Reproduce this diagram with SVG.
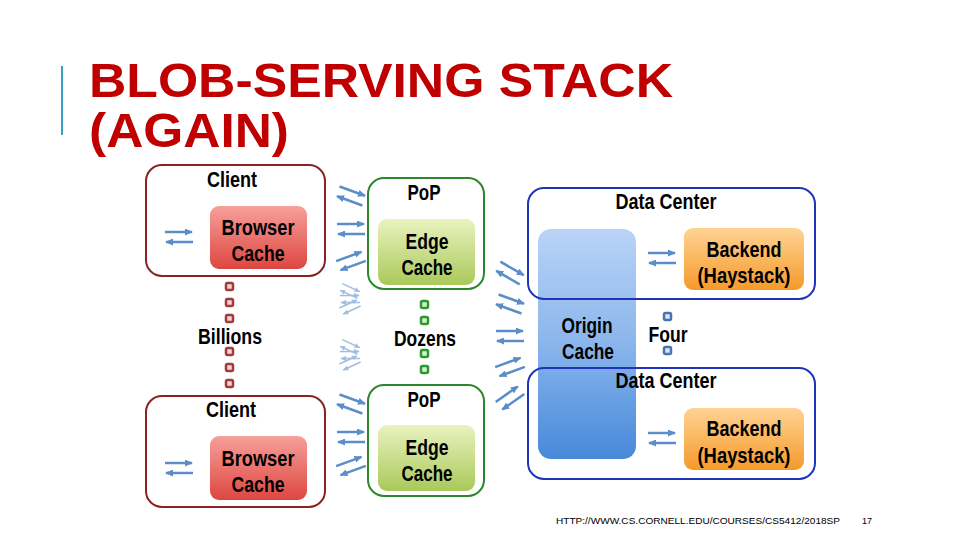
<svg xmlns="http://www.w3.org/2000/svg" width="960" height="540" viewBox="0 0 960 540">
<defs>
<linearGradient id="gRed" x1="0" y1="0" x2="0" y2="1"><stop offset="0" stop-color="#f6a09a"/><stop offset="1" stop-color="#de4640"/></linearGradient>
<linearGradient id="gGreen" x1="0" y1="0" x2="0" y2="1"><stop offset="0" stop-color="#eaf2bf"/><stop offset="1" stop-color="#a9c95a"/></linearGradient>
<linearGradient id="gOrange" x1="0" y1="0" x2="0" y2="1"><stop offset="0" stop-color="#ffd394"/><stop offset="1" stop-color="#f59a2a"/></linearGradient>
<linearGradient id="gBlue" x1="0" y1="0" x2="0" y2="1"><stop offset="0" stop-color="#b9d4f6"/><stop offset="0.5" stop-color="#8ab5ec"/><stop offset="1" stop-color="#4689da"/></linearGradient>
<marker id="ah" viewBox="0 0 8 7" refX="7" refY="3.5" markerWidth="8" markerHeight="7" markerUnits="userSpaceOnUse" orient="auto"><path d="M0,0 L8,3.5 L0,7 z" fill="#5b8ec8"/></marker>
<marker id="ahs" viewBox="0 0 8 7" refX="7" refY="3.5" markerWidth="6" markerHeight="5" markerUnits="userSpaceOnUse" orient="auto"><path d="M0,0 L8,3.5 L0,7 z" fill="#7aa3d4"/></marker>
<g id="pair">
<line x1="-14" y1="-5" x2="13" y2="-5"/>
<line x1="14" y1="5" x2="-13" y2="5"/>
</g>
<g id="spair">
<line x1="-10" y1="-3.5" x2="9" y2="-3.5"/>
<line x1="10" y1="3.5" x2="-9" y2="3.5"/>
</g>
</defs>
<style>
.lbl{font-family:"Liberation Sans",Arial,sans-serif;font-weight:bold;font-size:22px;fill:#000;text-anchor:middle}
.cl{fill:#fff;stroke:#8a2222;stroke-width:2}
.pp{fill:#fff;stroke:#2a882a;stroke-width:2}
.dc{fill:none;stroke:#1f34b8;stroke-width:2}
.conn{stroke:#5b8ec8;stroke-width:2.5;marker-end:url(#ah);fill:none}
.faint{stroke:#7aa3d4;stroke-width:1.5;marker-end:url(#ahs);opacity:0.7;fill:none}
.rsq{fill:#f2d6d6;stroke:#a03c3c;stroke-width:2.5}
.gsq{fill:#d8f0d8;stroke:#2a9a2a;stroke-width:2.5}
.bsq{fill:#dbe6f5;stroke:#4a72b0;stroke-width:2.5}
</style>
<rect width="960" height="540" fill="#fff"/>
<g id="title">
<line x1="62" y1="66" x2="62" y2="135" stroke="#3aa0c8" stroke-width="2"/>
<text x="89" y="97" font-family="Liberation Sans,Arial,sans-serif" font-weight="bold" font-size="48" fill="#c00000" textLength="584" lengthAdjust="spacingAndGlyphs">BLOB-SERVING STACK</text>
<text x="89" y="147" font-family="Liberation Sans,Arial,sans-serif" font-weight="bold" font-size="48" fill="#c00000" textLength="200" lengthAdjust="spacingAndGlyphs">(AGAIN)</text>
</g>
<g id="origin-cache">
<rect x="538" y="229" width="98" height="230" rx="13" fill="url(#gBlue)"/>
<text class="lbl" x="587" y="333" textLength="51" lengthAdjust="spacingAndGlyphs">Origin</text>
<text class="lbl" x="588" y="359" textLength="52" lengthAdjust="spacingAndGlyphs">Cache</text>
</g>
<g id="client-top">
<rect class="cl" x="146" y="165" width="179" height="111" rx="16"/>
<text class="lbl" x="232" y="187" textLength="50" lengthAdjust="spacingAndGlyphs">Client</text>
<rect x="210" y="206" width="97" height="63" rx="9" fill="url(#gRed)"/>
<text class="lbl" x="258" y="235" textLength="73" lengthAdjust="spacingAndGlyphs">Browser</text>
<text class="lbl" x="258" y="261" textLength="53" lengthAdjust="spacingAndGlyphs">Cache</text>
</g>
<g id="pop-top">
<rect class="pp" x="368" y="178" width="116" height="111" rx="16"/>
<text class="lbl" x="424" y="200" textLength="33" lengthAdjust="spacingAndGlyphs">PoP</text>
<rect x="378" y="219" width="97" height="66" rx="9" fill="url(#gGreen)"/>
<text class="lbl" x="427" y="249" textLength="43" lengthAdjust="spacingAndGlyphs">Edge</text>
<text class="lbl" x="427" y="275" textLength="51" lengthAdjust="spacingAndGlyphs">Cache</text>
</g>
<g id="dc-top">
<rect class="dc" x="528" y="188" width="287" height="111" rx="16"/>
<text class="lbl" x="666" y="209" textLength="101" lengthAdjust="spacingAndGlyphs">Data Center</text>
<rect x="684" y="228" width="120" height="62" rx="9" fill="url(#gOrange)"/>
<text class="lbl" x="744" y="257" textLength="75" lengthAdjust="spacingAndGlyphs">Backend</text>
<text class="lbl" x="744" y="283" textLength="93" lengthAdjust="spacingAndGlyphs">(Haystack)</text>
</g>
<g id="billions">
<rect class="rsq" x="226" y="283" width="7" height="7" rx="1.5"/>
<rect class="rsq" x="226" y="299" width="7" height="7" rx="1.5"/>
<rect class="rsq" x="226" y="315" width="7" height="7" rx="1.5"/>
<text class="lbl" x="230" y="344" textLength="64" lengthAdjust="spacingAndGlyphs">Billions</text>
<rect class="rsq" x="226" y="348" width="7" height="7" rx="1.5"/>
<rect class="rsq" x="226" y="364" width="7" height="7" rx="1.5"/>
<rect class="rsq" x="226" y="380" width="7" height="7" rx="1.5"/>
</g>
<g id="dozens">
<rect class="gsq" x="421" y="301" width="7" height="7" rx="1.5"/>
<rect class="gsq" x="421" y="317" width="7" height="7" rx="1.5"/>
<text class="lbl" x="425" y="346" textLength="62" lengthAdjust="spacingAndGlyphs">Dozens</text>
<rect class="gsq" x="421" y="350" width="7" height="7" rx="1.5"/>
<rect class="gsq" x="421" y="366" width="7" height="7" rx="1.5"/>
</g>
<g id="four">
<rect class="bsq" x="664" y="313" width="7" height="7" rx="1.5"/>
<text class="lbl" x="668" y="342" textLength="39" lengthAdjust="spacingAndGlyphs">Four</text>
<rect class="bsq" x="664" y="347" width="7" height="7" rx="1.5"/>
</g>
<g id="dc-bottom">
<rect class="dc" x="528" y="368" width="287" height="111" rx="16"/>
<text class="lbl" x="666" y="388" textLength="101" lengthAdjust="spacingAndGlyphs">Data Center</text>
<rect x="684" y="408" width="120" height="62" rx="9" fill="url(#gOrange)"/>
<text class="lbl" x="744" y="436" textLength="75" lengthAdjust="spacingAndGlyphs">Backend</text>
<text class="lbl" x="744" y="463" textLength="93" lengthAdjust="spacingAndGlyphs">(Haystack)</text>
</g>
<g id="client-bottom">
<rect class="cl" x="146" y="396" width="179" height="111" rx="16"/>
<text class="lbl" x="231" y="417" textLength="50" lengthAdjust="spacingAndGlyphs">Client</text>
<rect x="210" y="436" width="97" height="64" rx="9" fill="url(#gRed)"/>
<text class="lbl" x="258" y="466" textLength="73" lengthAdjust="spacingAndGlyphs">Browser</text>
<text class="lbl" x="258" y="492" textLength="53" lengthAdjust="spacingAndGlyphs">Cache</text>
</g>
<g id="pop-bottom">
<rect class="pp" x="368" y="385" width="116" height="111" rx="16"/>
<text class="lbl" x="424" y="407" textLength="33" lengthAdjust="spacingAndGlyphs">PoP</text>
<rect x="378" y="425" width="97" height="66" rx="9" fill="url(#gGreen)"/>
<text class="lbl" x="427" y="455" textLength="43" lengthAdjust="spacingAndGlyphs">Edge</text>
<text class="lbl" x="427" y="481" textLength="51" lengthAdjust="spacingAndGlyphs">Cache</text>
</g>
<g id="connectors">
<g class="conn">
<use href="#pair" transform="translate(179,237)"/>
<use href="#pair" transform="translate(179,468)"/>
<use href="#pair" transform="translate(662,258)"/>
<use href="#pair" transform="translate(662,438)"/>
<use href="#pair" transform="translate(351,196) rotate(20)"/>
<use href="#pair" transform="translate(351,229)"/>
<use href="#pair" transform="translate(351,261) rotate(-20)"/>
<use href="#pair" transform="translate(351,404) rotate(20)"/>
<use href="#pair" transform="translate(351,437)"/>
<use href="#pair" transform="translate(351,466) rotate(-20)"/>
<use href="#pair" transform="translate(510,273) rotate(30)"/>
<use href="#pair" transform="translate(510,304) rotate(20)"/>
<use href="#pair" transform="translate(510,336)"/>
<use href="#pair" transform="translate(510,367) rotate(-20)"/>
<use href="#pair" transform="translate(510,398) rotate(-35)"/>
</g>
<g class="faint">
<use href="#spair" transform="translate(350,291) rotate(25)"/>
<use href="#spair" transform="translate(350,299)"/>
<use href="#spair" transform="translate(350,307) rotate(-25)"/>
<use href="#spair" transform="translate(350,347) rotate(25)"/>
<use href="#spair" transform="translate(350,355)"/>
<use href="#spair" transform="translate(350,363) rotate(-25)"/>
</g>
</g>
<g id="footer" font-family="Liberation Sans,Arial,sans-serif" font-size="9" fill="#000">
<text x="556" y="524" textLength="284" lengthAdjust="spacingAndGlyphs">HTTP://WWW.CS.CORNELL.EDU/COURSES/CS5412/2018SP</text>
<text x="862" y="524">17</text>
</g>
</svg>
